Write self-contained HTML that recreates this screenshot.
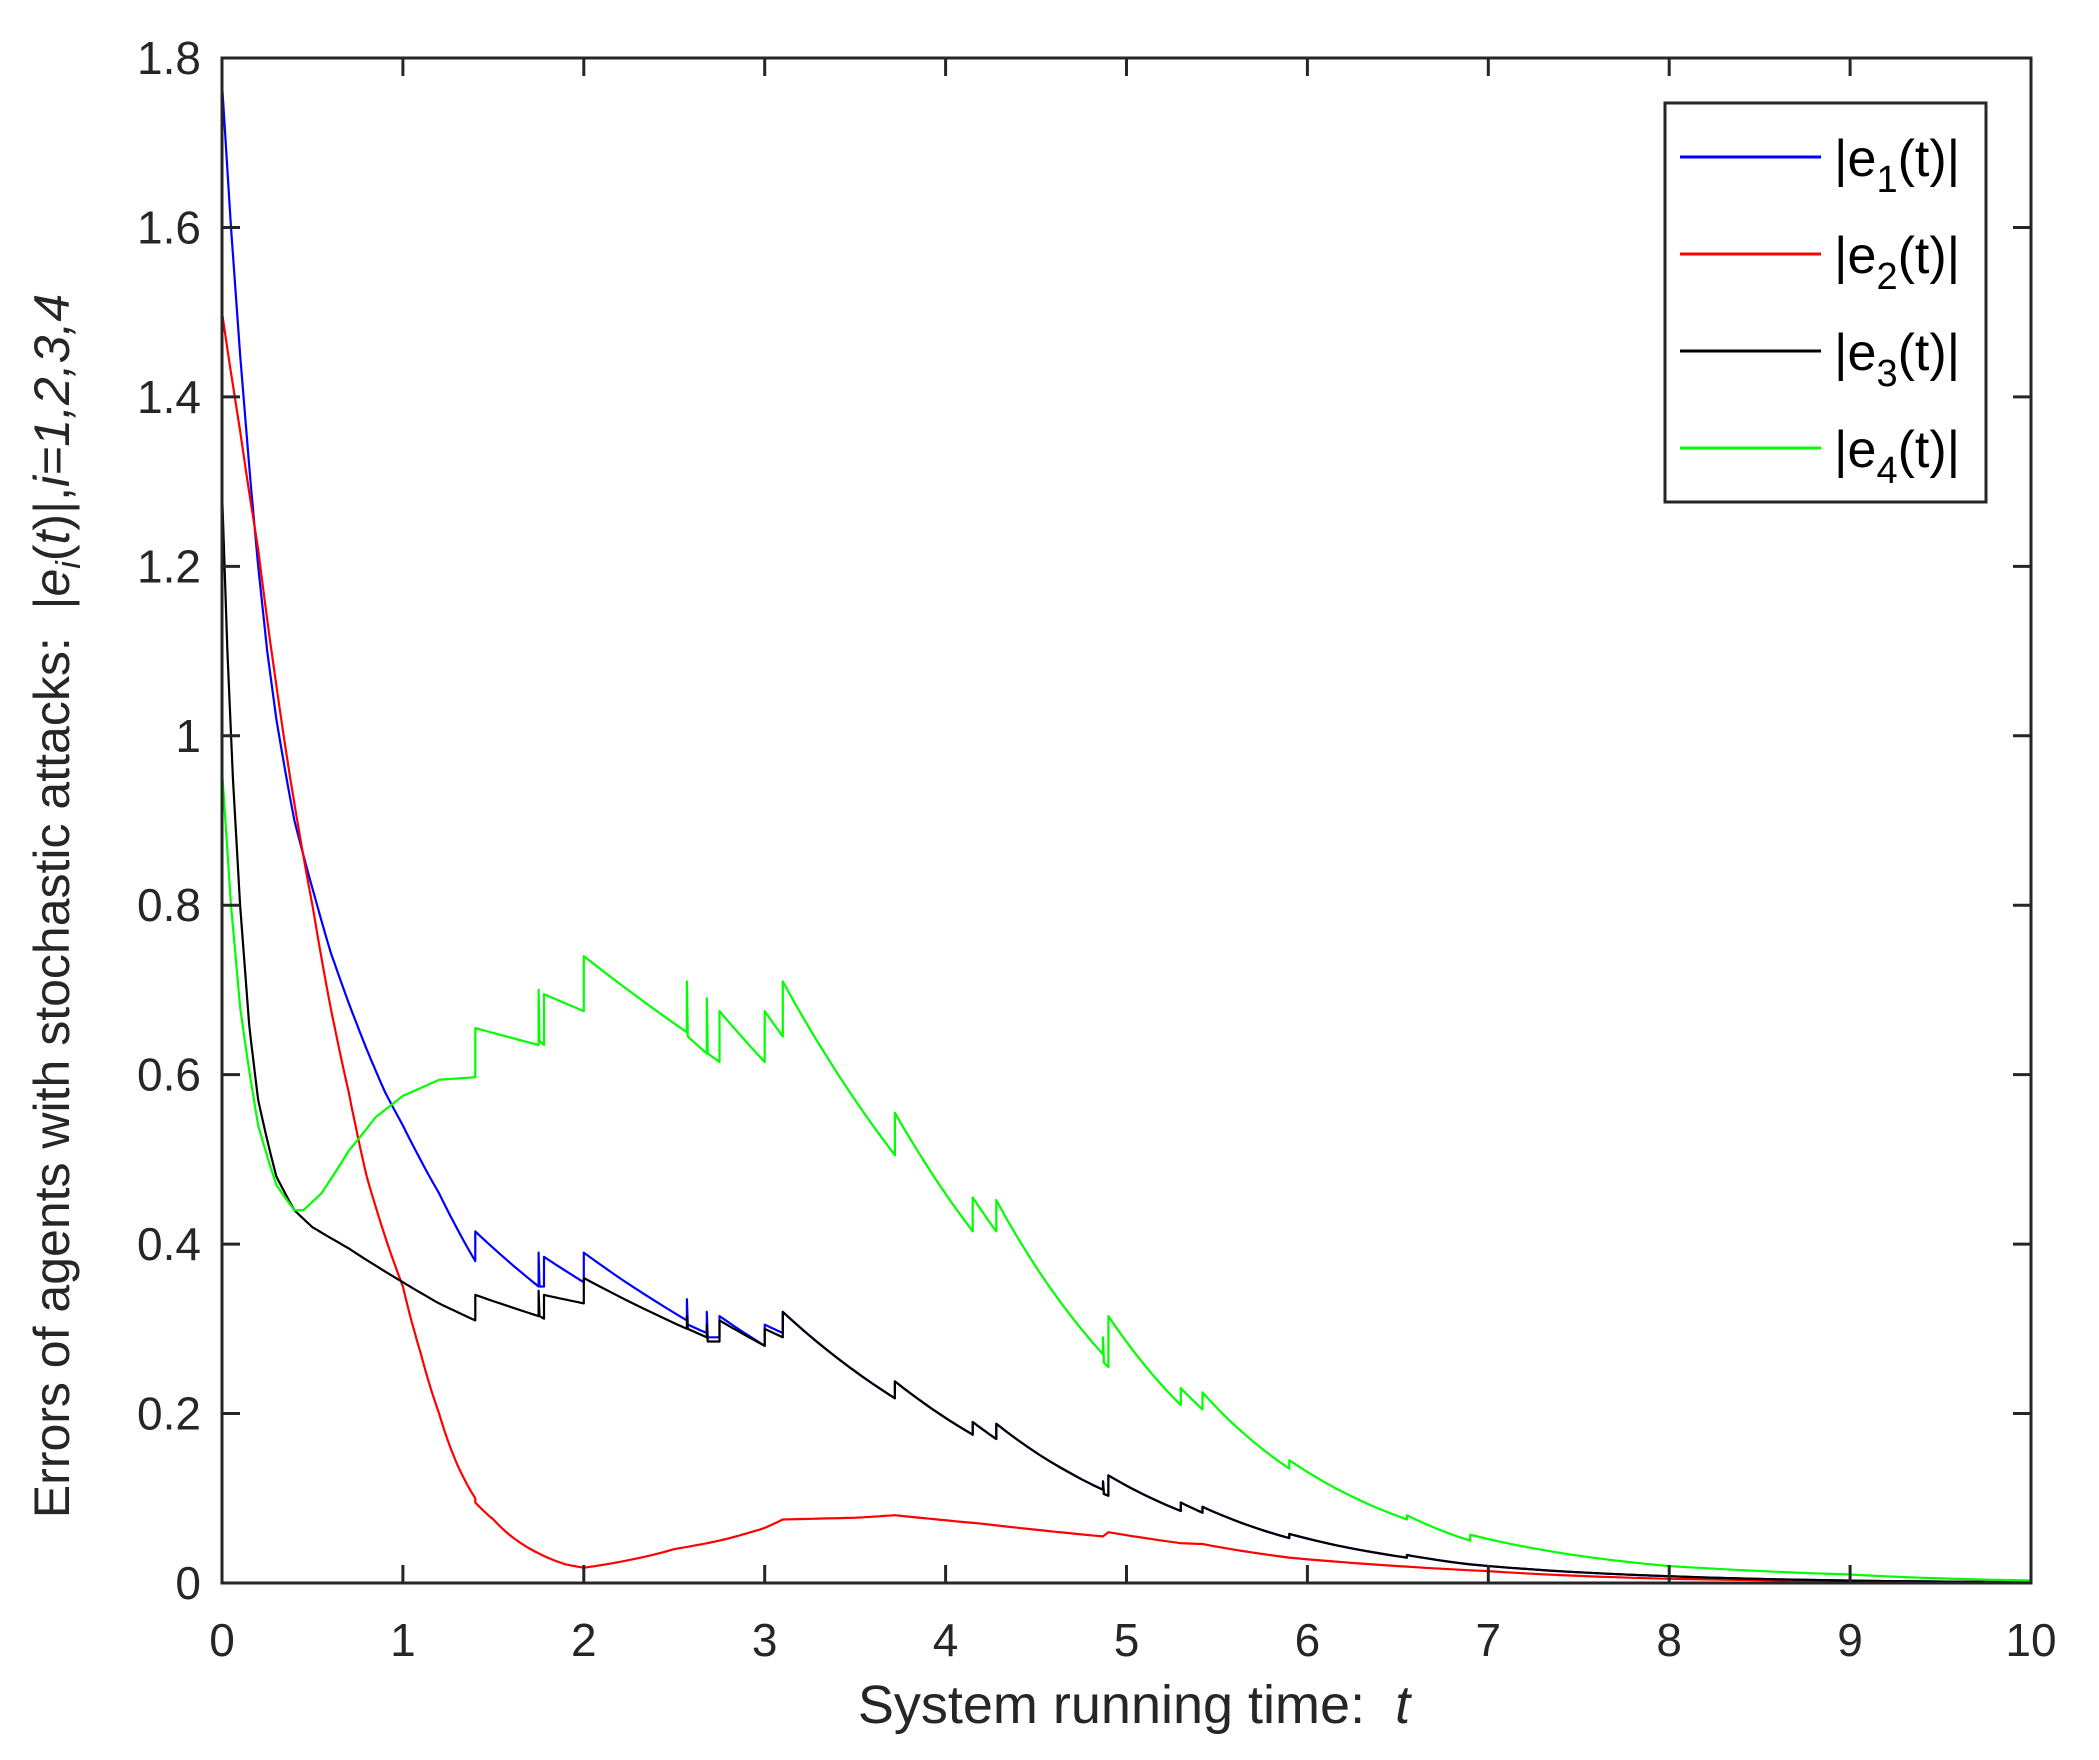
<!DOCTYPE html>
<html><head><meta charset="utf-8"><style>
html,body{margin:0;padding:0;background:#fff;}
svg{display:block;font-family:"Liberation Sans",Arial,sans-serif;}
</style></head><body>
<svg id="s" width="2099" height="1760" viewBox="0 0 2099 1760" xmlns="http://www.w3.org/2000/svg">
<rect width="2099" height="1760" fill="#fff"/>
<g id="curves" fill="none" stroke-width="2.2" stroke-linejoin="round"></g>
<g id="axes" stroke="#262626" stroke-width="3" fill="none"></g>
<g id="labels" fill="#262626" font-size="46"></g>
<text x="69" y="906" transform="rotate(-90 69 906)" text-anchor="middle" font-size="50" fill="#262626">Errors of agents with stochastic attacks:&#160;&#160;|<tspan font-style="italic">e</tspan><tspan font-style="italic" font-size="34" dy="11">i</tspan><tspan dy="-11">(</tspan><tspan font-style="italic">t</tspan>)|,<tspan font-style="italic">i=1,2,3,4</tspan></text>
<text x="1134" y="1723" text-anchor="middle" font-size="54" fill="#262626">System running time:&#160;&#160;<tspan font-style="italic">t</tspan></text>
<rect x="1665" y="103" width="321" height="399" fill="#fff" stroke="#262626" stroke-width="3"/>
<g stroke-width="3">
<line x1="1680" y1="157" x2="1821" y2="157" stroke="#0000ff"/>
<line x1="1680" y1="254" x2="1821" y2="254" stroke="#ff0000"/>
<line x1="1680" y1="351" x2="1821" y2="351" stroke="#000"/>
<line x1="1680" y1="448" x2="1821" y2="448" stroke="#00ff00"/>
</g>
<g font-size="52" fill="#000">
<text x="1834" y="176">|e<tspan font-size="38" dy="16">1</tspan><tspan dy="-16">(t)|</tspan></text>
<text x="1834" y="273">|e<tspan font-size="38" dy="16">2</tspan><tspan dy="-16">(t)|</tspan></text>
<text x="1834" y="370">|e<tspan font-size="38" dy="16">3</tspan><tspan dy="-16">(t)|</tspan></text>
<text x="1834" y="467">|e<tspan font-size="38" dy="16">4</tspan><tspan dy="-16">(t)|</tspan></text>
</g>
</svg>
<script>
var X0=222,X1=2031,Y0=1583,Y1=58;
function px(t){return X0+(X1-X0)*t/10;}
function py(v){return Y0-(Y0-Y1)*v/1.8;}
var NS="http://www.w3.org/2000/svg";
function el(n,a,p){var e=document.createElementNS(NS,n);for(var k in a)e.setAttribute(k,a[k]);p.appendChild(e);return e;}
var ax=document.getElementById('axes'),lb=document.getElementById('labels');
el('rect',{x:X0,y:Y1,width:X1-X0,height:Y0-Y1},ax);
for(var i=0;i<=10;i++){var x=px(i);el('line',{x1:x,y1:Y0,x2:x,y2:Y0-18},ax);el('line',{x1:x,y1:Y1,x2:x,y2:Y1+18},ax);
var t=el('text',{x:x,y:1656,'text-anchor':'middle'},lb);t.textContent=i;}
for(var j=0;j<=9;j++){var v=j*0.2,y=py(v);el('line',{x1:X0,y1:y,x2:X0+18,y2:y},ax);el('line',{x1:X1,y1:y,x2:X1-18,y2:y},ax);
var t=el('text',{x:201,y:y+16,'text-anchor':'end'},lb);t.textContent=(j==0?'0':(j==5?'1':v.toFixed(1)));}
function path(pts){var d='';for(var i=0;i<pts.length;i++){var p=pts[i];
 if(i>0){var q=pts[i-1];if(p[0]-q[0]>0.05&&q[1]>0&&p[1]>0){for(var k=1;k<10;k++){var f=k/10;var t=q[0]+(p[0]-q[0])*f;var v=q[1]*Math.pow(p[1]/q[1],f);d+='L'+px(t).toFixed(1)+' '+py(v).toFixed(1);}}}
 d+=(i?'L':'M')+px(p[0]).toFixed(1)+' '+py(p[1]).toFixed(1);}return d;}
var black=[[0,1.29],[0.03,1.1],[0.06,0.95],[0.1,0.8],[0.15,0.66],[0.2,0.57],[0.3,0.48],[0.4,0.44],[0.5,0.42],[0.7,0.395],[1.0,0.355],[1.2,0.33],[1.4,0.31],[1.4,0.34],[1.75,0.315],[1.75,0.345],[1.755,0.315],[1.78,0.312],[1.78,0.34],[2.0,0.33],[2.0,0.36],[2.57,0.3],[2.57,0.315],[2.575,0.3],[2.68,0.29],[2.68,0.305],[2.685,0.285],[2.75,0.285],[2.75,0.31],[3.0,0.28],[3.0,0.3],[3.1,0.29],[3.1,0.32],[3.72,0.218],[3.72,0.238],[4.15,0.175],[4.15,0.19],[4.28,0.17],[4.28,0.188],[4.87,0.11],[4.87,0.12],[4.875,0.105],[4.9,0.103],[4.9,0.127],[5.3,0.085],[5.3,0.095],[5.42,0.083],[5.42,0.09],[5.9,0.053],[5.9,0.058],[6.55,0.03],[6.55,0.033],[6.9,0.022],[8,0.008],[10,0.001]];
var blue=[[0,1.77],[0.05,1.6],[0.1,1.45],[0.15,1.32],[0.2,1.2],[0.25,1.1],[0.3,1.02],[0.4,0.9],[0.5,0.82],[0.6,0.745],[0.7,0.685],[0.8,0.63],[0.9,0.58],[1.0,0.54],[1.2,0.46],[1.4,0.38],[1.4,0.415],[1.75,0.35],[1.75,0.39],[1.755,0.35],[1.78,0.35],[1.78,0.385],[2.0,0.355],[2.0,0.39],[2.57,0.31],[2.57,0.335],[2.575,0.305],[2.68,0.295],[2.68,0.32],[2.685,0.29],[2.75,0.29],[2.75,0.315],[3.0,0.28],[3.0,0.305],[3.1,0.295],[3.1,0.32]].concat(black.slice(33));
var green=[[0,0.96],[0.05,0.8],[0.1,0.68],[0.2,0.54],[0.3,0.47],[0.4,0.44],[0.45,0.44],[0.55,0.46],[0.7,0.51],[0.85,0.55],[1.0,0.575],[1.2,0.594],[1.4,0.597],[1.4,0.655],[1.75,0.635],[1.75,0.7],[1.755,0.64],[1.78,0.635],[1.78,0.695],[2.0,0.675],[2.0,0.74],[2.57,0.65],[2.57,0.71],[2.575,0.645],[2.68,0.625],[2.68,0.69],[2.685,0.625],[2.75,0.615],[2.75,0.675],[3.0,0.615],[3.0,0.675],[3.1,0.645],[3.1,0.71],[3.72,0.505],[3.72,0.555],[4.15,0.415],[4.15,0.455],[4.28,0.415],[4.28,0.452],[4.87,0.27],[4.87,0.29],[4.875,0.26],[4.9,0.255],[4.9,0.315],[5.3,0.21],[5.3,0.23],[5.42,0.205],[5.42,0.225],[5.9,0.135],[5.9,0.145],[6.55,0.075],[6.55,0.08],[6.9,0.05],[6.9,0.057],[8,0.02],[9,0.01],[10,0.003]];
var red=[[0,1.5],[0.1,1.36],[0.2,1.22],[0.3,1.06],[0.4,0.92],[0.5,0.8],[0.6,0.68],[0.7,0.58],[0.8,0.48],[0.9,0.41],[1.0,0.35],[1.1,0.27],[1.2,0.2],[1.3,0.14],[1.4,0.1],[1.4,0.095],[1.5,0.075],[1.6,0.055],[1.75,0.035],[1.9,0.022],[2.0,0.018],[2.2,0.025],[2.5,0.04],[2.75,0.05],[3.0,0.065],[3.1,0.075],[3.5,0.077],[3.72,0.08],[4.2,0.07],[4.87,0.055],[4.9,0.06],[5.3,0.047],[5.42,0.046],[5.9,0.03],[6.5,0.02],[7,0.014],[8,0.005],[10,0.001]];
var cg=document.getElementById('curves');
el('path',{d:path(blue),stroke:'#0000ff'},cg);
el('path',{d:path(red),stroke:'#ff0000'},cg);
el('path',{d:path(black),stroke:'#000000'},cg);
el('path',{d:path(green),stroke:'#00ff00'},cg);
</script>
</body></html>
